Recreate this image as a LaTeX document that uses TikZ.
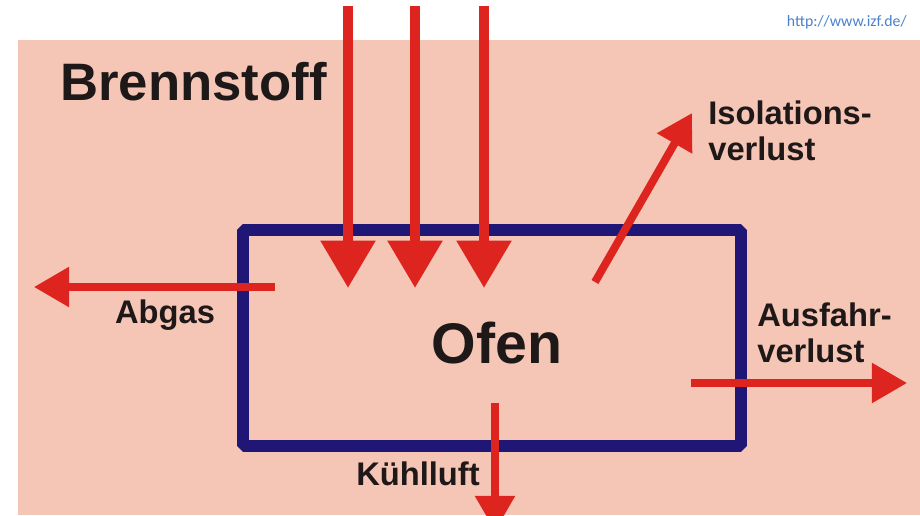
\documentclass[tikz,border=0pt]{standalone}
\usepackage{fontspec}
\setmainfont{Liberation Sans}
\newfontfamily\urlfont{Carlito}
\usetikzlibrary{arrows.meta}
\usetikzlibrary{math}
\definecolor{mysalmon}{RGB}{245,198,182}
\definecolor{myred}{RGB}{222,36,30}
\definecolor{mynavy}{RGB}{32,22,118}
\definecolor{myurl}{RGB}{74,128,204}
\definecolor{mytext}{RGB}{30,24,24}

\begin{document}
\begin{tikzpicture}[x=0.02cm, y=-0.02cm,
  fuel/.style={myred, line width=5.7pt, -{Triangle[length=27pt,width=30pt]}},
  loss/.style={myred, line width=4pt, -{Triangle[length=20pt,width=22pt]}},
  lbl/.style={font=\bfseries\fontsize{18.6}{21}\selectfont, text=mytext, align=left, inner sep=0pt}]
\tikzmath{
\L=12;
}

\useasboundingbox (0,0) rectangle (920,515);
\clip (0,0) rectangle (920,515);
\fill[mysalmon] (18,40) rectangle (920,515);

\node[anchor=base east, inner sep=0pt, text=myurl, font=\urlfont\fontsize{9}{11}\selectfont] (url) at (907,26) {http://www.izf.de/};

% Ofen
\draw[mynavy, line width=\L*0.567pt, line join=bevel] (243,230) rectangle (741,446);
\node[anchor=base, inner sep=0pt, text=mytext, font=\bfseries\fontsize{32.6}{36}\selectfont] (ofen) at (497,363) {Ofen};

\node[anchor=base west, inner sep=0pt, text=mytext, font=\bfseries\fontsize{30}{34}\selectfont] (brenn) at (60,100) {Brennstoff};
\node[lbl, anchor=base] (abgas) at (165,323) {Abgas};
\node[lbl, anchor=base] (kuehl) at (418,485) {Kühlluft};
\node[lbl, anchor=north west] (isol) at (708,100) {Isolations-\\verlust};
\node[lbl, anchor=north west] (ausf) at (757,302) {Ausfahr-\\verlust};

% Brennstoff rein
\foreach \x [count=\i] in {348,415,484}{
  \coordinate (top\i) at (\x,6);
  \coordinate (in\i) at (\x,288);
  \draw[fuel] (top\i) -- (in\i);
}

% Verluste raus
\coordinate (a1) at (275,287);  \coordinate (a2) at (34,287);
\coordinate (k1) at (495,403);  \coordinate (k2) at (495,531);
\coordinate (r1) at (691,383);  \coordinate (r2) at (907,383);
\coordinate (i1) at (595,282);  \coordinate (i2) at (692,113);
\draw[loss] (a1) -- (a2);
\draw[loss] (k1) -- (k2);
\draw[loss] (r1) -- (r2);
\draw[loss, line width=4.5pt] (i1) -- (i2);

\end{tikzpicture}
\end{document}
